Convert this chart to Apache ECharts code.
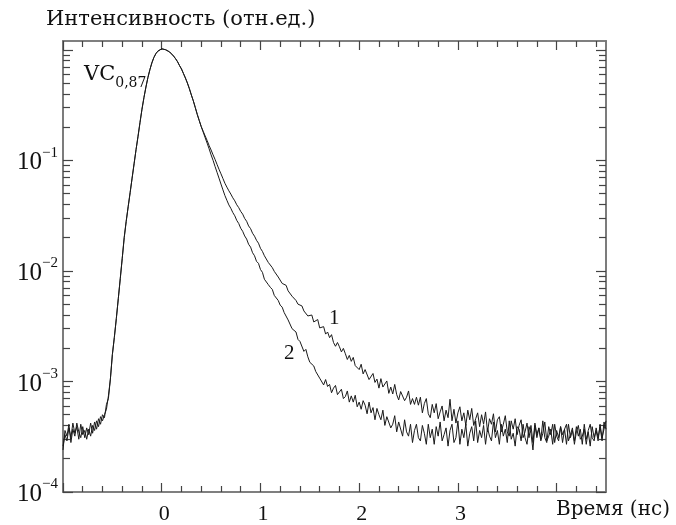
<!DOCTYPE html>
<html><head><meta charset="utf-8">
<script src="https://cdn.jsdelivr.net/npm/echarts@6/dist/echarts.min.js"></script>
<style>html,body{margin:0;padding:0;background:#fff}#c{width:676px;height:525px}</style>
</head><body><div id="c"></div>
<script>
const tStart = -1.0, tStep = 0.02;

// -1.00 .. -0.54 ns : background before the pulse
const base1 = [2.6e-4,3.3e-4,2.9e-4,3.8e-4,3.1e-4,4.2e-4,3.4e-4,3.9e-4,3.0e-4,4.1e-4,
  3.3e-4,3.6e-4,3.0e-4,3.7e-4,3.2e-4,4.0e-4,3.6e-4,4.4e-4,3.9e-4,4.8e-4,
  4.4e-4,5.0e-4,5.6e-4,7.4e-4];
const base2 = [2.4e-4,3.6e-4,3.2e-4,4.1e-4,2.8e-4,3.7e-4,3.2e-4,4.2e-4,3.5e-4,3.1e-4,
  3.9e-4,3.1e-4,3.8e-4,3.3e-4,4.2e-4,3.4e-4,4.3e-4,3.7e-4,4.6e-4,4.1e-4,
  5.0e-4,4.7e-4,6.2e-4,7.0e-4];
// -0.52 .. 0.40 ns : common rise and peak
const pulse = [1.05e-3,1.75e-3,2.5e-3,3.7e-3,5.6e-3,8.5e-3,0.013,0.02,0.028,0.038,
  0.051,0.069,0.093,0.125,0.165,0.22,0.29,0.37,0.46,0.56,
  0.66,0.76,0.85,0.92,0.97,1.0,1.02,1.01,1.0,0.98,
  0.955,0.92,0.877,0.83,0.78,0.72,0.67,0.61,0.555,0.5,
  0.445,0.39,0.345,0.3,0.26,0.229,0.202];
// 0.42 .. 4.50 ns : decay, curve 1 (rows of 0.2 ns)
const decay1 = [
  0.183,0.166,0.151,0.136,0.124,0.112,0.102,0.092,0.083,0.0755,
  0.0684,0.062,0.0572,0.053,0.0495,0.0458,0.043,0.0396,0.0373,0.0345,
  0.0326,0.0298,0.0281,0.0255,0.0241,0.0219,0.0206,0.0189,0.0178,0.016,
  0.015,0.0137,0.0134,0.0119,0.0117,0.0107,0.0099,0.0098,0.0088,0.0086,
  0.0077,0.0077,0.0074,0.0066,0.0066,0.0059,0.0059,0.0054,0.005,0.005,
  0.00482,0.00434,0.00448,0.00391,0.00385,0.00399,0.00345,0.00358,0.00363,0.00305,
  0.00309,0.00313,0.00268,0.0028,0.00249,0.00265,0.00225,0.00208,0.00225,0.00206,
  0.00185,0.00199,0.00178,0.00158,0.00172,0.00152,0.00165,0.00139,0.00144,0.00128,
  0.00143,0.00117,0.00128,0.00133,0.00104,0.00108,0.00118,0.00098,0.00105,0.00087,
  0.00106,0.00089,0.00091,0.00101,0.00078,0.00089,0.00077,0.00094,0.00076,0.00068,
  0.00081,0.00084,0.00067,0.00072,0.00082,0.00062,0.0007,0.00062,0.00072,0.00061,
  0.00072,0.00052,0.00063,0.0007,0.00051,0.00047,0.00062,0.00052,0.00063,0.00046,
  0.00053,0.0006,0.00044,0.00055,0.00047,0.00069,0.00044,0.00056,0.00042,0.00052,
  0.00059,0.00044,0.00052,0.0004,0.00055,0.00045,0.00057,0.0004,0.00046,0.00052,
  0.00039,0.0005,0.00041,0.00053,0.00035,0.00046,0.00041,0.00051,0.00035,0.00045,
  0.00048,0.00035,0.00041,0.00049,0.00035,0.00032,0.00044,0.00037,0.00046,0.00033,
  0.0004,0.00045,0.00031,0.00035,0.00042,0.00031,0.0004,0.00028,0.00042,0.00033,
  0.00038,0.0003,0.00044,0.00031,0.00028,0.00039,0.00033,0.00041,0.00028,0.00036,
  0.00031,0.00039,0.00028,0.00037,0.00041,0.00029,0.00033,0.00038,0.00027,0.00035,
  0.0004,0.0003,0.00032,0.00037,0.00027,0.00036,0.00041,0.00031,0.00029,0.00038,
  0.00031,0.00039,0.00029,0.00043,0.00037];
// 0.42 .. 4.50 ns : decay, curve 2 (rows of 0.2 ns)
const decay2 = [
  0.18,0.16,0.143,0.127,0.112,0.1,0.088,0.078,0.069,0.061,
  0.054,0.048,0.0435,0.0395,0.0368,0.0337,0.0315,0.0286,0.0268,0.0243,
  0.0228,0.0207,0.0194,0.0174,0.0164,0.0146,0.0137,0.0122,0.0117,0.0103,
  0.0097,0.0084,0.0084,0.0075,0.0071,0.0068,0.006,0.0059,0.0054,0.0049,
  0.0047,0.0042,0.0041,0.0036,0.0035,0.003,0.0029,0.0028,0.0024,0.0023,
  0.00223,0.00187,0.00195,0.00167,0.00149,0.00155,0.00138,0.00123,0.00126,0.00107,
  0.00108,0.00093,0.00104,0.0009,0.00094,0.00079,0.00087,0.00092,0.00076,0.00079,
  0.00085,0.0007,0.00073,0.00082,0.00065,0.00074,0.00065,0.00075,0.00059,0.00065,
  0.00056,0.00067,0.00061,0.00051,0.00065,0.00052,0.00058,0.00045,0.00057,0.0005,
  0.00045,0.00055,0.0004,0.00048,0.0005,0.00038,0.00041,0.00049,0.00035,0.00043,
  0.00043,0.00032,0.00045,0.00035,0.00032,0.00041,0.00028,0.00036,0.00041,0.00031,
  0.00029,0.0004,0.00034,0.00027,0.00041,0.00031,0.00037,0.00027,0.00039,0.00032,
  0.00043,0.00029,0.00033,0.00038,0.00026,0.00036,0.00041,0.00028,0.00031,0.00044,
  0.00027,0.00037,0.00031,0.00041,0.00026,0.00034,0.00039,0.00029,0.00044,0.00028,
  0.00036,0.00031,0.0004,0.00027,0.00038,0.00032,0.00029,0.00043,0.00031,0.00036,
  0.00027,0.00041,0.00032,0.00037,0.00028,0.00044,0.0003,0.00034,0.00026,0.00039,
  0.00037,0.00029,0.00041,0.00031,0.00027,0.00039,0.00034,0.00024,0.0004,0.00031,
  0.00038,0.00029,0.00034,0.00043,0.00029,0.00032,0.00037,0.00027,0.00041,0.00032,
  0.00029,0.00039,0.00033,0.00037,0.00027,0.00041,0.00031,0.00036,0.00029,0.00039,
  0.00032,0.00037,0.00027,0.00041,0.0003,0.00035,0.00026,0.00039,0.00031,0.00036,
  0.00029,0.00041,0.00031,0.00037,0.00044];

const curve1 = base1.concat(pulse, decay1);
const curve2 = base2.concat(pulse, decay2);

// axes
const xMin = -1, xMax = 4.5;
const xMajorTicks = [-1, 0, 1, 2, 3, 4];
const xMinorTicks = [-0.8,-0.6,-0.4,-0.2,0.2,0.4,0.6,0.8,1.2,1.4,1.6,1.8,2.2,2.4,2.6,2.8,3.2,3.4,3.6,3.8,4.2,4.4];
const xLabelValues = [0, 1, 2, 3];
const yMin = 1e-4, yMax = 1.2;
const yDecades = [1e-4, 1e-3, 1e-2, 1e-1, 1];
const yMantissas = [2, 3, 4, 5, 6, 7, 8, 9];
const yLabelValues = [1e-4, 1e-3, 1e-2, 1e-1];

const yMinorTicks = [];
yDecades.slice(0, 4).forEach(d => yMantissas.forEach(m => yMinorTicks.push(m * d)));

function pairs(vals) { return vals.map((v, i) => [tStart + i * tStep, v]); }

const NUM = 'Liberation Serif';
const axisLineStyle = { color: '#777', width: 1.6 };
const tickStyle = { color: '#444', width: 1.2 };

function xAx(pos, ticks, len, labels) {
  return {
    type: 'value', min: xMin, max: xMax, position: pos,
    axisLine: { show: true, onZero: false, lineStyle: axisLineStyle },
    axisTick: { show: true, inside: true, length: len, customValues: ticks, lineStyle: tickStyle },
    axisLabel: labels ? { show: true, customValues: xLabelValues, margin: 11, fontFamily: NUM, fontSize: 22, color: '#111', padding: [0, 0, 0, 5] } : { show: false },
    splitLine: { show: false }
  };
}
function yAx(pos, ticks, len, labels) {
  return {
    type: 'log', logBase: 10, min: yMin, max: yMax, position: pos,
    axisLine: { show: true, onZero: false, lineStyle: axisLineStyle },
    axisTick: { show: true, inside: true, length: len, customValues: ticks, lineStyle: tickStyle },
    axisLabel: labels ? {
      show: true, customValues: yLabelValues, margin: 5,
      formatter: v => { const e = Math.round(Math.log10(v)); return '{b|10}{s|' + (e < 0 ? '\u2212' : '') + Math.abs(e) + '}'; },
      rich: {
        b: { fontFamily: NUM, fontSize: 25, color: '#111', lineHeight: 30, verticalAlign: 'bottom' },
        s: { fontFamily: NUM, fontSize: 15, color: '#111', lineHeight: 15, verticalAlign: 'top' }
      }
    } : { show: false },
    splitLine: { show: false }
  };
}

const chart = echarts.init(document.getElementById('c'), null, { renderer: 'canvas' });
chart.setOption({
  backgroundColor: '#fff',
  animation: false,
  grid: { left: 63, right: 70, top: 41, bottom: 30, containLabel: false },
  xAxis: [
    xAx('bottom', xMajorTicks, 9, true),
    xAx('bottom', xMinorTicks, 6, false),
    xAx('top', xMajorTicks, 9, false),
    xAx('top', xMinorTicks, 6, false)
  ],
  yAxis: [
    yAx('left', yDecades, 10, true),
    yAx('left', yMinorTicks, 7, false),
    yAx('right', yDecades, 10, false),
    yAx('right', yMinorTicks, 7, false)
  ],
  series: [
    { type: 'line', name: '1', xAxisIndex: 0, yAxisIndex: 0, data: pairs(curve1), showSymbol: false, symbol: 'none',
      lineStyle: { color: '#1a1a1a', width: 1 }, silent: true },
    { type: 'line', name: '2', xAxisIndex: 0, yAxisIndex: 0, data: pairs(curve2), showSymbol: false, symbol: 'none',
      lineStyle: { color: '#1a1a1a', width: 1 }, silent: true }
  ],
  graphic: [
    { type: 'text', left: 46, top: 9, style: { text: 'Интенсивность (отн.ед.)', font: '21px "DejaVu Serif"', fill: '#111' } },
    { type: 'text', left: 556, top: 500, style: { text: 'Время (нс)', font: '20px "DejaVu Serif"', fill: '#111' } },
    { type: 'text', left: 84, top: 64, style: { text: '{a|VC}{b|0,87}', rich: {
        a: { font: '21px "DejaVu Serif"', fill: '#111', lineHeight: 26, verticalAlign: 'top' },
        b: { font: '14px "DejaVu Serif"', fill: '#111', lineHeight: 26, verticalAlign: 'bottom' } } } },
    { type: 'text', left: 329, top: 308, style: { text: '1', font: '21px "Liberation Serif"', fill: '#111' } },
    { type: 'text', left: 284, top: 343, style: { text: '2', font: '21px "Liberation Serif"', fill: '#111' } }
  ]
});
</script></body></html>
